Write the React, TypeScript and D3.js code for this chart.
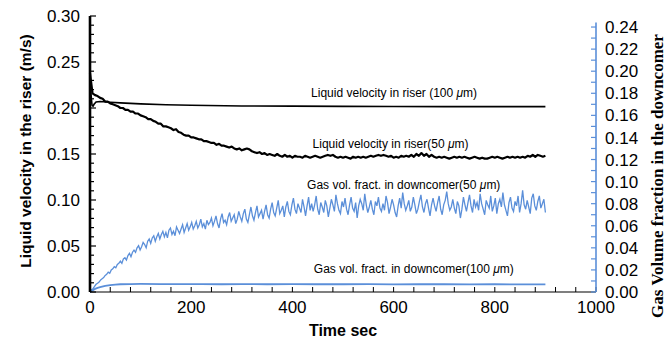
import React from "react";
import * as d3 from "d3";

// ---------- DATA ----------
const RISER50_STEP = 5; // seconds between samples
const GAS50_STEP = 3; // seconds between samples

// Liquid velocity in riser (50 µm), m/s, t = 0..900 every 5 s
const riser50: number[] = [
  0.238, 0.216, 0.214, 0.213, 0.211, 0.210, 0.207, 0.207, 0.205, 0.204,
  0.203, 0.202, 0.200, 0.200, 0.198, 0.198, 0.196, 0.196, 0.194, 0.194,
  0.192, 0.191, 0.190, 0.188, 0.188, 0.186, 0.185, 0.183, 0.183, 0.180,
  0.180, 0.179, 0.178, 0.176, 0.177, 0.174, 0.173, 0.171, 0.170, 0.170,
  0.168, 0.168, 0.167, 0.166, 0.166, 0.164, 0.164, 0.163, 0.162, 0.162,
  0.160, 0.161, 0.159, 0.159, 0.158, 0.157, 0.158, 0.156, 0.155, 0.156,
  0.154, 0.155, 0.156, 0.155, 0.153, 0.152, 0.151, 0.152, 0.150, 0.151,
  0.149, 0.150, 0.149, 0.148, 0.150, 0.148, 0.147, 0.149, 0.147, 0.148,
  0.146, 0.148, 0.147, 0.147, 0.146, 0.148, 0.147, 0.146, 0.147, 0.148,
  0.147, 0.146, 0.147, 0.148, 0.149, 0.148, 0.149, 0.147, 0.146, 0.147,
  0.146, 0.147, 0.146, 0.145, 0.147, 0.146, 0.147, 0.146, 0.147, 0.146,
  0.147, 0.148, 0.147, 0.148, 0.149, 0.148, 0.149, 0.148, 0.147, 0.148,
  0.146, 0.147, 0.146, 0.148, 0.147, 0.148, 0.147, 0.149, 0.147, 0.150,
  0.148, 0.151, 0.148, 0.150, 0.147, 0.149, 0.147, 0.146, 0.147, 0.146,
  0.147, 0.146, 0.145, 0.146, 0.147, 0.146, 0.147, 0.146, 0.147, 0.146,
  0.145, 0.146, 0.147, 0.146, 0.145, 0.146, 0.145, 0.145, 0.146, 0.147,
  0.146, 0.147, 0.146, 0.145, 0.146, 0.147, 0.146, 0.147, 0.146, 0.147,
  0.146, 0.147, 0.146, 0.148, 0.147, 0.149, 0.147, 0.149, 0.148, 0.147,
  0.148,
];

// Liquid velocity in riser (100 µm), m/s
const riser100Time: number[] = [0, 2, 4, 6, 8, 12, 20, 40, 60, 100, 150, 200, 300, 400, 500, 600, 700, 800, 900];
const riser100: number[] = [0.232, 0.215, 0.203, 0.202, 0.204, 0.2065, 0.207, 0.2062, 0.2056, 0.2045, 0.2035, 0.203, 0.2022, 0.202, 0.2018, 0.2016, 0.2015, 0.2015, 0.2015];

// Gas volume fraction in downcomer (50 µm), t = 0..900 every 3 s
const gas50: number[] = [
  0.000, 0.002, 0.003, 0.005, 0.007, 0.008, 0.009, 0.011, 0.012, 0.013,
  0.015, 0.016, 0.018, 0.017, 0.020, 0.021, 0.023, 0.022, 0.025, 0.026,
  0.028, 0.026, 0.030, 0.031, 0.029, 0.033, 0.035, 0.032, 0.036, 0.038,
  0.036, 0.040, 0.042, 0.038, 0.041, 0.045, 0.043, 0.040, 0.046, 0.048,
  0.044, 0.049, 0.051, 0.046, 0.050, 0.053, 0.048, 0.052, 0.055, 0.050,
  0.054, 0.049, 0.056, 0.058, 0.052, 0.055, 0.051, 0.059, 0.056, 0.053,
  0.057, 0.061, 0.054, 0.058, 0.062, 0.056, 0.059, 0.063, 0.057, 0.060,
  0.064, 0.058, 0.061, 0.066, 0.059, 0.062, 0.057, 0.065, 0.061, 0.063,
  0.067, 0.060, 0.064, 0.069, 0.062, 0.058, 0.066, 0.071, 0.063, 0.065,
  0.061, 0.068, 0.072, 0.064, 0.067, 0.070, 0.062, 0.066, 0.073, 0.068,
  0.064, 0.071, 0.075, 0.066, 0.063, 0.070, 0.077, 0.069, 0.065, 0.072,
  0.078, 0.068, 0.071, 0.074, 0.066, 0.073, 0.079, 0.070, 0.067, 0.075,
  0.081, 0.072, 0.069, 0.076, 0.083, 0.071, 0.074, 0.078, 0.068, 0.077,
  0.082, 0.073, 0.070, 0.079, 0.085, 0.075, 0.071, 0.080, 0.076, 0.072,
  0.084, 0.077, 0.069, 0.078, 0.086, 0.074, 0.080, 0.073, 0.079, 0.087,
  0.075, 0.070, 0.081, 0.077, 0.072, 0.083, 0.078, 0.068, 0.076, 0.084,
  0.079, 0.073, 0.088, 0.080, 0.074, 0.071, 0.082, 0.077, 0.085, 0.075,
  0.070, 0.079, 0.086, 0.076, 0.073, 0.081, 0.067, 0.078, 0.084, 0.080,
  0.074, 0.089, 0.079, 0.072, 0.077, 0.083, 0.075, 0.070, 0.082, 0.078,
  0.086, 0.076, 0.073, 0.080, 0.074, 0.087, 0.081, 0.071, 0.077, 0.084,
  0.079, 0.072, 0.068, 0.078, 0.085, 0.076, 0.090, 0.080, 0.074, 0.078,
  0.083, 0.073, 0.077, 0.086, 0.079, 0.071, 0.075, 0.082, 0.088, 0.077,
  0.072, 0.080, 0.084, 0.076, 0.069, 0.079, 0.085, 0.078, 0.073, 0.081,
  0.087, 0.075, 0.070, 0.079, 0.083, 0.091, 0.080, 0.074, 0.077, 0.084,
  0.076, 0.071, 0.082, 0.078, 0.067, 0.075, 0.086, 0.079, 0.073, 0.081,
  0.088, 0.078, 0.072, 0.084, 0.077, 0.081, 0.074, 0.089, 0.080, 0.075,
  0.070, 0.083, 0.079, 0.076, 0.087, 0.073, 0.078, 0.085, 0.071, 0.080,
  0.084, 0.077, 0.090, 0.079, 0.074, 0.069, 0.081, 0.086, 0.076, 0.073,
  0.082, 0.078, 0.087, 0.072, 0.080, 0.092, 0.079, 0.075, 0.083, 0.077,
  0.071, 0.085, 0.089, 0.078, 0.074, 0.082, 0.087, 0.076, 0.080, 0.084,
  0.072,
];

// Gas volume fraction in downcomer (100 µm)
const gas100Time: number[] = [0, 5, 10, 15, 20, 30, 40, 50, 60, 80, 100, 140, 180, 220, 260, 300, 350, 400, 450, 500, 550, 600, 650, 700, 750, 800, 850, 900];
const gas100: number[] = [0, 0.0015, 0.0028, 0.0038, 0.0045, 0.0055, 0.0062, 0.0066, 0.0070, 0.0072, 0.0073, 0.0072, 0.0071, 0.0072, 0.0070, 0.0071, 0.0070, 0.0071, 0.0070, 0.0070, 0.0071, 0.0069, 0.0070, 0.0070, 0.0069, 0.0070, 0.0069, 0.0069];

const xTickLabels = [0, 200, 400, 600, 800, 1000];
const leftTickLabels = [0, 0.05, 0.1, 0.15, 0.2, 0.25, 0.3];
const rightTickLabels = [0, 0.02, 0.04, 0.06, 0.08, 0.1, 0.12, 0.14, 0.16, 0.18, 0.2, 0.22, 0.24];

const annotations = [
  { text: "Liquid velocity in riser (100", x: 601, y: 0.2115, axis: "left" },
  { text: "Liquid velocity in riser(50", x: 594, y: 0.157, axis: "left" },
  { text: "Gas vol. fract. in downcomer(50", x: 620, y: 0.0935, axis: "right" },
  { text: "Gas vol. fract. in downcomer(100", x: 640, y: 0.017, axis: "right" },
];

// ---------- LAYOUT ----------
const W = 667;
const H = 341;
const X0 = 90;
const X1 = 596;
const Y0 = 292;
const YT = 16;

const BLUE = "#5b8fd9";
const SANS = "'Liberation Sans', Arial, sans-serif";
const SERIF = "'Liberation Serif', 'Times New Roman', serif";

export default function App() {
  const x = d3.scaleLinear().domain([0, 1000]).range([X0, X1]);
  const yL = d3.scaleLinear().domain([0, 0.3]).range([Y0, YT]);
  const yR = d3.scaleLinear().domain([0, 0.25]).range([Y0, YT]);

  const lineL = d3.line<[number, number]>().x((d) => x(d[0])).y((d) => yL(d[1]));
  const lineR = d3.line<[number, number]>().x((d) => x(d[0])).y((d) => yR(d[1]));

  const r50 = riser50.map((v, i) => [i * RISER50_STEP, v] as [number, number]);
  const r100 = riser100.map((v, i) => [riser100Time[i], v] as [number, number]);
  const g50 = gas50.map((v, i) => [i * GAS50_STEP, v] as [number, number]);
  const g100 = gas100.map((v, i) => [gas100Time[i], v] as [number, number]);

  const xMinor = d3.range(0, 1001, 40);
  const leftMinor = d3.range(0, 31).map((i) => i / 100);
  const rightMinor = d3.range(0, 25).map((i) => i / 100);

  return (
    <svg width={W} height={H} style={{ position: "absolute", left: 0, top: 0, background: "#fff" }}>
      {/* data lines */}
      <path d={lineR(g50) || ""} fill="none" stroke={BLUE} strokeWidth={1.3} />
      <path d={lineR(g100) || ""} fill="none" stroke={BLUE} strokeWidth={1.8} />
      <path d={lineL(r100) || ""} fill="none" stroke="#000" strokeWidth={1.6} />
      <path d={lineL(r50) || ""} fill="none" stroke="#000" strokeWidth={2.2} strokeLinejoin="round" />

      {/* bottom axis */}
      <line x1={X0} x2={X1} y1={Y0} y2={Y0} stroke="#000" strokeWidth={1.2} />
      {xMinor.map((t) => (
        <line key={"xt" + t} x1={x(t)} x2={x(t)} y1={Y0} y2={Y0 - 5} stroke="#000" strokeWidth={1} />
      ))}
      {xTickLabels.map((t) => (
        <text key={"xl" + t} x={x(t)} y={313} textAnchor="middle" fontFamily={SANS} fontSize={17} fill="#000">
          {t}
        </text>
      ))}
      <text x={(X0 + X1) / 2} y={336} textAnchor="middle" fontFamily={SANS} fontSize={16} fontWeight="bold" fill="#000">
        Time sec
      </text>

      {/* left axis */}
      {leftMinor.map((v, i) => (
        <line key={"lt" + i} x1={X0} x2={X0 + (i % 5 === 0 ? 6 : 4)} y1={yL(v)} y2={yL(v)} stroke="#000" strokeWidth={1.2} />
      ))}
      <line x1={X0} x2={X0} y1={Y0} y2={YT} stroke="#000" strokeWidth={2.6} />
      {leftTickLabels.map((v) => (
        <text key={"ll" + v} x={80} y={yL(v)} dy="0.36em" textAnchor="end" fontFamily={SANS} fontSize={17} fill="#000">
          {v.toFixed(2)}
        </text>
      ))}
      <text
        transform={`translate(31,151) rotate(-90)`}
        textAnchor="middle"
        fontFamily={SANS}
        fontSize={15.5}
        fontWeight="bold"
        fill="#000"
      >
        Liquid velocity in the riser (m/s)
      </text>

      {/* right axis */}
      <line x1={X1} x2={X1} y1={Y0} y2={yR(0.244)} stroke={BLUE} strokeWidth={1.6} />
      {rightMinor.map((v, i) => (
        <line key={"rt" + i} x1={X1} x2={X1 - 5} y1={yR(v)} y2={yR(v)} stroke={BLUE} strokeWidth={1.2} />
      ))}
      {rightTickLabels.map((v) => (
        <text key={"rl" + v} x={605} y={yR(v)} dy="0.36em" textAnchor="start" fontFamily={SANS} fontSize={17} fill="#000">
          {v.toFixed(2)}
        </text>
      ))}
      <text
        transform={`translate(663,176) rotate(-90)`}
        textAnchor="middle"
        fontFamily={SERIF}
        fontSize={17}
        fontWeight="bold"
        fill="#000"
      >
        Gas Volume fraction in the downcomer
      </text>

      {/* annotations */}
      {annotations.map((a, i) => (
        <text
          key={"an" + i}
          x={x(a.x)}
          y={a.axis === "left" ? yL(a.y) : yR(a.y)}
          textAnchor="middle"
          fontFamily={SANS}
          fontSize={12}
          fill="#000"
        >
          {a.text}
          <tspan fontStyle="italic">{" \u03bc"}</tspan>
          {"m)"}
        </text>
      ))}
    </svg>
  );
}
